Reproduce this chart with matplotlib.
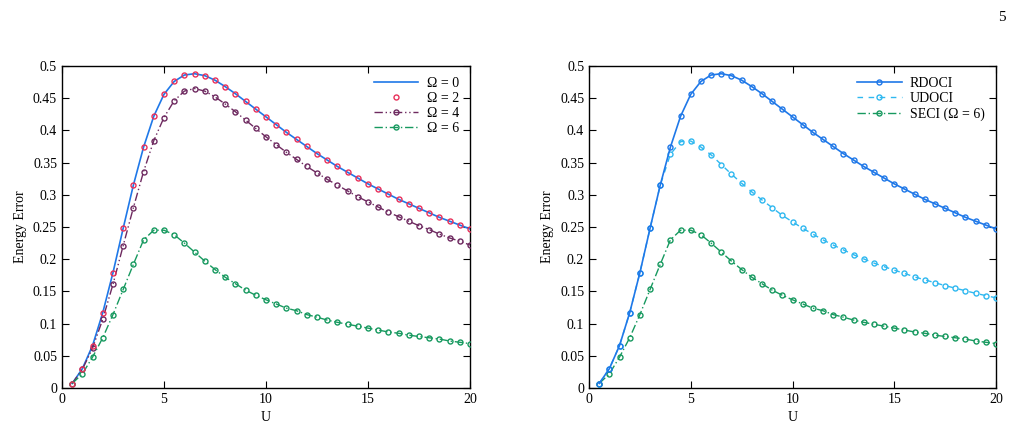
import matplotlib
matplotlib.use('Agg')
import matplotlib.pyplot as plt
import numpy as np

plt.rcParams['font.family'] = ['Liberation Serif', 'DejaVu Serif']
plt.rcParams['font.size'] = 10

# U grid (0.5 .. 20, step 0.5)
U = np.arange(1, 41) * 0.5

omega0 = [0.007, 0.030, 0.066, 0.117, 0.179, 0.248, 0.315, 0.374, 0.422, 0.456,
          0.476, 0.486, 0.488, 0.485, 0.478, 0.468, 0.457, 0.445, 0.433, 0.421,
          0.409, 0.397, 0.386, 0.375, 0.364, 0.354, 0.344, 0.335, 0.326, 0.317,
          0.309, 0.301, 0.293, 0.286, 0.279, 0.272, 0.265, 0.259, 0.253, 0.247]
omega2 = list(omega0)
omega4 = [0.007, 0.029, 0.062, 0.107, 0.161, 0.221, 0.280, 0.336, 0.384, 0.420,
          0.446, 0.461, 0.465, 0.461, 0.452, 0.441, 0.429, 0.416, 0.403, 0.390,
          0.378, 0.366, 0.355, 0.344, 0.334, 0.324, 0.315, 0.306, 0.297, 0.289,
          0.281, 0.273, 0.266, 0.259, 0.252, 0.246, 0.239, 0.233, 0.228, 0.222]
omega6 = [0.007, 0.022, 0.048, 0.078, 0.114, 0.153, 0.192, 0.230, 0.245, 0.245,
          0.238, 0.225, 0.211, 0.197, 0.184, 0.172, 0.162, 0.152, 0.144, 0.137,
          0.1305, 0.124, 0.120, 0.114, 0.110, 0.1055, 0.102, 0.099, 0.096, 0.093,
          0.090, 0.087, 0.085, 0.082, 0.080, 0.078, 0.076, 0.073, 0.071, 0.069]

rdoci = list(omega0)
udoci = [0.007, 0.030, 0.066, 0.117, 0.179, 0.248, 0.315, 0.363, 0.3825, 0.3835,
         0.374, 0.362, 0.347, 0.332, 0.318, 0.3045, 0.292, 0.280, 0.268, 0.258,
         0.248, 0.239, 0.230, 0.222, 0.2145, 0.207, 0.2005, 0.194, 0.1885, 0.183,
         0.178, 0.1725, 0.168, 0.1635, 0.159, 0.155, 0.151, 0.147, 0.1435, 0.140]
seci = list(omega6)

c_blue = '#1f78e8'
c_red = '#e8305a'
c_purple = '#6e2a60'
c_green = '#17995f'
c_cyan = '#2fb8f0'

fig = plt.figure(figsize=(10.21, 4.33), dpi=100)
ax1 = fig.add_axes([0.0607, 0.1039, 0.3996, 0.7437])
ax2 = fig.add_axes([0.5769, 0.1039, 0.3986, 0.7437])

mk = dict(marker='o', markersize=3.6, markerfacecolor='none', markeredgewidth=1.0)

ax1.plot(U, omega0, color=c_blue, lw=1.2, label='Ω = 0', zorder=3)
ax1.plot(U, omega2, linestyle='none', color=c_red, label='Ω = 2', zorder=4, **mk)
ax1.plot(U, omega4, color=c_purple, lw=1.0, dashes=(6, 2, 1, 2, 1, 2),
         label='Ω = 4', zorder=3, **mk)
ax1.plot(U, omega6, color=c_green, lw=1.0, dashes=(6, 2, 1, 2),
         label='Ω = 6', zorder=3, **mk)

ax2.plot(U, rdoci, color=c_blue, lw=1.2, label='RDOCI', zorder=4, **mk)
ax2.plot(U, udoci, color=c_cyan, lw=1.0, dashes=(4, 4), label='UDOCI', zorder=3, **mk)
ax2.plot(U, seci, color=c_green, lw=1.0, dashes=(6, 2, 1, 2),
         label='SECI (Ω = 6)', zorder=3, **mk)

for ax in (ax1, ax2):
    ax.set_xlim(0, 20)
    ax.set_ylim(0, 0.5)
    ax.set_xticks([0, 5, 10, 15, 20])
    ax.set_yticks(np.arange(0, 0.501, 0.05))
    ax.set_yticklabels(['0', '0.05', '0.1', '0.15', '0.2', '0.25', '0.3',
                        '0.35', '0.4', '0.45', '0.5'])
    ax.tick_params(direction='in', top=True, right=True, length=5, width=0.8,
                   labelsize=10)
    ax.set_xlabel('U', fontsize=10)
    ax.set_ylabel('Energy Error', fontsize=10)
    for s in ax.spines.values():
        s.set_linewidth(1.0)
    ax.legend(loc='upper right', frameon=False, fontsize=10, handlelength=3.2,
              handletextpad=0.6, labelspacing=0.15, borderaxespad=0.4)

fig.text(0.985, 0.975, '5', ha='right', va='top', fontsize=11)

fig.savefig('out.png', dpi=100, facecolor='white')
